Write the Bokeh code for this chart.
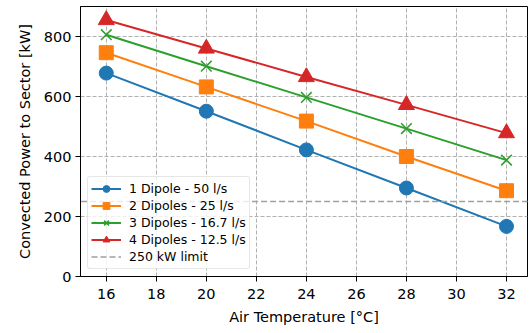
from bokeh.plotting import figure
from bokeh.models import Range1d, FixedTicker, Legend, LegendItem
from bokeh.embed import file_html
from bokeh.resources import INLINE

temps = [16, 20, 24, 28, 32]
p1 = [678, 551, 422, 295, 167]
p2 = [746, 632, 518, 400, 286]
p3 = [806, 701, 597, 493, 388]
p4 = [855, 760, 665, 572, 478]
labels = ["1 Dipole - 50 l/s", "2 Dipoles - 25 l/s", "3 Dipoles - 16.7 l/s", "4 Dipoles - 12.5 l/s"]
limit = 250
limit_label = "250 kW limit"
x_ticks = [16, 18, 20, 22, 24, 26, 28, 30, 32]
y_ticks = [0, 200, 400, 600, 800]

FONT = "DejaVu Sans"

p = figure(width=528, height=328, output_backend="svg", toolbar_location=None,
           x_range=Range1d(14.97, 32.84), y_range=Range1d(0, 900),
           min_border_left=80, min_border_right=1, min_border_top=6, min_border_bottom=52)

p.outline_line_color = "black"
p.outline_line_width = 1
p.background_fill_color = "white"
p.border_fill_color = "white"

for ax in (p.xaxis[0], p.yaxis[0]):
    ax.axis_line_color = "black"
    ax.major_tick_line_color = "black"
    ax.minor_tick_line_color = None
    ax.major_tick_out = 5
    ax.major_tick_in = 0
    ax.major_label_text_font = FONT
    ax.major_label_text_font_size = "14.5px"
    ax.major_label_text_color = "black"
    ax.axis_label_text_font = FONT
    ax.axis_label_text_font_size = "14.5px"
    ax.axis_label_text_font_style = "normal"
    ax.axis_label_text_color = "black"

p.xaxis.major_label_standoff = 7
p.yaxis.major_label_standoff = 4
p.xaxis.ticker = FixedTicker(ticks=x_ticks)
p.yaxis.ticker = FixedTicker(ticks=y_ticks)
p.xaxis.axis_label = "Air Temperature [°C]"
p.yaxis.axis_label = "Convected Power to Sector [kW]"
p.xaxis.axis_label_standoff = 7
p.yaxis.axis_label_standoff = 8

for g in (p.xgrid[0], p.ygrid[0]):
    g.grid_line_color = "#b0b0b0"
    g.grid_line_dash = "4 2"
    g.grid_line_width = 1

colors = ["#1f77b4", "#ff7f0e", "#2ca02c", "#d62728"]
markers = ["circle", "square", "x", "triangle"]
sizes = [14, 14, 15, 16]
series = [p1, p2, p3, p4]

items = []
for ys, c, m, s, lab in zip(series, colors, markers, sizes, labels):
    r1 = p.line(temps, ys, line_color=c, line_width=2)
    if m == "x":
        r2 = p.scatter(temps, ys, marker=m, size=s, line_color=c, line_width=1.5)
    else:
        r2 = p.scatter(temps, ys, marker=m, size=s, fill_color=c, line_color=c)
    items.append(LegendItem(label=lab, renderers=[r1, r2]))

lim = p.line([x_ticks[0] - 10, x_ticks[-1] + 10], [limit, limit], line_color="#a0a0a0",
             line_width=1.5, line_dash="6 3")
items.append(LegendItem(label=limit_label, renderers=[lim]))

legend = Legend(items=items, location="bottom_left")
legend.label_text_font = FONT
legend.label_text_font_size = "12.5px"
legend.label_text_color = "black"
legend.glyph_width = 30
legend.glyph_height = 17
legend.label_height = 17
legend.spacing = 0
legend.padding = 3
legend.margin = 7
legend.border_line_color = "#d0d0d0"
legend.border_line_width = 1
legend.border_radius = 3
legend.background_fill_alpha = 0.8
legend.label_standoff = 8
p.add_layout(legend, "center")

open("out.html", "w").write(file_html(p, INLINE))
